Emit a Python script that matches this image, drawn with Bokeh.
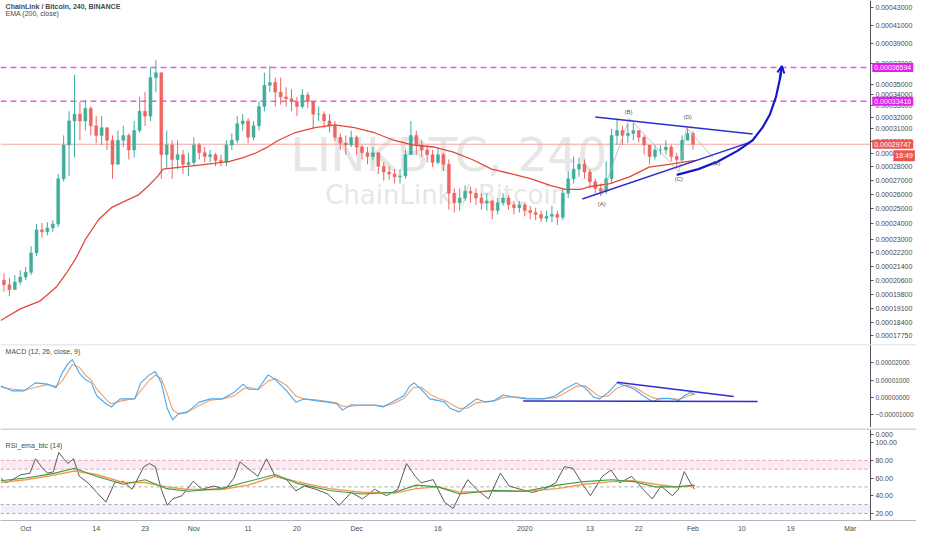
import numpy as np
from bokeh.plotting import figure
from bokeh.layouts import column
from bokeh.models import (ColumnDataSource, FixedTicker, CustomJSTickFormatter, Span,
                          Label, Range1d, BoxAnnotation, Arrow, OpenHead)
from bokeh.embed import file_html
from bokeh.resources import INLINE

SAT = 1e-8          # prices are kept in satoshi
# ---------------- data (x = days since 2019-10-01) ----------------
candle_day = list(range(-4, 124))
first_open = 20600
close_sats = [20353, 20090, 20511, 20781, 21053, 22180, 23608, 23485, 23731, 23979,
              27099, 29681, 31676, 32258, 31676, 32766, 31268, 30464, 31106, 30070,
              28177, 30070, 30464, 29297, 30864, 32511, 32091, 35613, 36079, 28920,
              29681, 28547, 28920, 28177, 28325, 29681, 29070, 28770, 28920, 28473,
              28325, 29681, 30070, 31430, 31676, 30306, 31268, 32937, 34880, 35153,
              34248, 33805, 33630, 33368, 32937, 33982, 33368, 32258, 32258, 31676,
              31268, 30306, 29837, 29681, 30306, 29527, 29070, 28770, 29070, 28031,
              27597, 27453, 27240, 27311, 28920, 30464, 29681, 29297, 28920, 28325,
              28920, 28177, 26061, 25392, 25724, 26197, 26061, 25724, 25392, 25524,
              24868, 25392, 25724, 25260, 25063, 25260, 24868, 24739, 24611, 24356,
              24483, 24611, 24420, 26061, 27099, 27813, 28177, 27597, 26888, 26402,
              26197, 27099, 30464, 30864, 30464, 30624, 30864, 30306, 29681, 28770,
              29297, 29297, 29527, 28770, 28547, 30070, 30624, 29747]
high_sats = [20998, 20727, 20890, 21163, 21381, 22588, 23979, 24041, 24104, 24230,
             27453, 30464, 32511, 35892, 33368, 33542, 32937, 32091, 32091, 31106,
             30464, 30864, 31268, 30624, 31676, 33805, 34248, 36551, 37319, 36079,
             30864, 30070, 30070, 29297, 29070, 30306, 29837, 29527, 29297, 29070,
             28920, 30070, 30624, 32091, 32258, 31924, 31676, 33368, 36079, 36742,
             35613, 35613, 34697, 34517, 33805, 34517, 34248, 33368, 32937, 32511,
             32258, 31676, 30624, 30464, 30864, 30464, 29681, 29527, 29527, 29070,
             28325, 28031, 27813, 27813, 29297, 31676, 30864, 30070, 29681, 29297,
             29527, 29070, 28547, 26402, 26402, 26609, 26540, 26402, 26061, 26061,
             25590, 25724, 26061, 25926, 25524, 25524, 25392, 25194, 25063, 24868,
             24868, 25194, 24868, 26402, 27669, 28770, 28695, 28547, 27813, 27099,
             26748, 28399, 31025, 31758, 31268, 31430, 31512, 30864, 30464, 29681,
             29681, 29681, 30070, 29700, 29070, 30464, 31106, 30800]
low_sats = [19986, 19728, 20090, 20353, 20618, 20890, 22006, 23121, 23242, 23485,
            23793, 26888, 27311, 28695, 30070, 30864, 30464, 29837, 29681, 29297,
            27099, 28177, 29527, 28547, 28695, 30700, 31268, 31676, 34248, 27099,
            27813, 27099, 27813, 27453, 27311, 28031, 28547, 28325, 28325, 28031,
            28031, 28031, 29297, 29837, 30864, 29837, 30070, 30864, 32511, 34248,
            32937, 33109, 32937, 32511, 32091, 32766, 32766, 31025, 31676, 31106,
            30704, 29992, 29297, 28920, 29527, 28920, 28547, 28177, 28473, 27453,
            26958, 27028, 26748, 26748, 27099, 28920, 28920, 28770, 28325, 27958,
            28177, 27669, 24933, 24739, 24868, 25524, 25392, 25260, 24933, 24868,
            24293, 24611, 25194, 24933, 24611, 24739, 24483, 24293, 24230, 24104,
            24104, 24104, 23917, 24230, 25724, 26748, 27240, 27099, 26402, 26061,
            25858, 26000, 26748, 29681, 29681, 29837, 30070, 29915, 28920, 28177,
            28547, 28920, 28920, 28399, 28031, 28325, 30070, 29297]

ema_day = [-4.6, -1.0, 2.6, 5.7, 7.5, 9.3, 11.1, 13.5, 15.8, 18.4,
           20.7, 22.5, 24.4, 25.3, 28.5, 31.6, 34.7, 37.6, 40.1, 42.5,
           44.3, 46.6, 49.7, 53.3, 57.0, 60.6, 64.2, 67.8, 71.5, 75.1,
           78.7, 82.3, 85.9, 89.6, 93.2, 96.8, 99.5, 102.3, 104.1, 107.7,
           111.3, 114.9, 118.6, 122.2, 123.4]
ema_sats = [18483, 19071, 19473, 20247, 20998, 21891, 23061, 24293, 25063, 25524,
            25926, 26540, 27311, 27813, 27958, 28104, 28251, 28399, 28695, 29070,
            29451, 30070, 30704, 31106, 31349, 31106, 30704, 30070, 29681, 29527,
            29145, 28547, 27813, 27453, 27099, 26609, 26333, 26333, 26540, 26748,
            27240, 27958, 28177, 28399, 28473]

resistance_sats = [36594, 33416]
last_price_sats = 29747

tri_upper_day = [105.0, 134.0]
tri_upper_sats = [32009, 30580]
tri_lower_day = [102.6, 133.6]
tri_lower_sats = [25657, 29914]
curve_day = [120.0, 124.0, 127.6, 131.2, 134.0, 135.8, 137.2, 138.3, 139.0, 139.4]
curve_sats = [27382, 27813, 28399, 29221, 30070, 31106, 32258, 33805, 35428, 36742]
wave_day = [106.2, 111.3, 120.4, 121.8, 126.7]
wave_sats = [25926, 31924, 27597, 31106, 28695]
wave_labels = ["(A)", "(B)", "(C)", "(D)", "(E)"]
wave_label_day = [106.2, 111.1, 120.4, 122.0, 127.3]
wave_label_sats = [25326, 32426, 27099, 32008, 28251]

macd_day = [-4.6, -2.5, -0.3, 1.8, 4.0, 5.6, 6.7, 7.8, 8.6, 9.9,
            11.0, 12.1, 13.1, 14.8, 15.8, 17.4, 20.1, 21.2, 22.8, 23.9,
            25.0, 26.1, 27.1, 28.2, 29.8, 32.0, 34.1, 36.3, 38.4, 40.1,
            41.1, 42.8, 44.7, 46.0, 48.1, 49.8, 51.4, 53.5, 55.7, 57.3,
            58.4, 60.0, 62.1, 64.3, 65.9, 67.5, 69.7, 70.8, 71.6, 72.9,
            74.5, 76.1, 77.2, 78.3, 79.9, 81.5, 83.1, 84.8, 86.4, 88.0,
            90.1, 92.3, 95.5, 97.7, 99.3, 101.5, 103.1, 104.7, 105.8, 107.4,
            109.0, 110.6, 112.2, 113.8, 115.5, 117.1, 118.7, 120.3, 121.4, 122.5,
            123.3]
macd_e5 = [0.67, 0.39, 0.39, 0.85, 0.78, 0.57, 1.41, 1.96, 2.19, 1.41,
           1.04, 0.85, 0.11, -0.35, -0.54, -0.07, -0.07, 0.85, 1.31, 1.50,
           0.85, -0.63, -1.28, -0.91, -0.82, -0.26, -0.07, -0.07, 0.30, 0.78,
           0.48, 0.48, 1.31, 1.04, 0.39, -0.26, -0.07, -0.17, -0.26, -0.35,
           -0.72, -0.41, -0.44, -0.44, -0.54, -0.26, 0.11, 0.67, 0.85, 0.48,
           -0.07, -0.17, -0.26, -0.63, -0.82, -0.44, -0.07, -0.26, -0.17, 0.15,
           0.02, -0.07, -0.07, 0.11, 0.48, 0.85, 0.57, 0.02, -0.07, 0.30,
           0.85, 0.67, 0.48, 0.11, -0.22, -0.04, -0.04, -0.17, 0.11, 0.30,
           0.20]
signal_e5 = [0.60, 0.50, 0.42, 0.60, 0.75, 0.65, 0.95, 1.50, 1.90, 1.75,
             1.30, 1.00, 0.50, -0.10, -0.35, -0.20, -0.05, 0.40, 1.00, 1.30,
             1.10, 0.20, -0.70, -0.95, -0.85, -0.45, -0.15, -0.08, 0.10, 0.50,
             0.60, 0.45, 0.95, 1.10, 0.70, 0.10, -0.10, -0.12, -0.22, -0.30,
             -0.50, -0.50, -0.42, -0.42, -0.48, -0.38, -0.05, 0.35, 0.60, 0.60,
             0.20, -0.05, -0.15, -0.35, -0.62, -0.60, -0.30, -0.22, -0.20, 0.00,
             0.05, -0.02, -0.06, 0.00, 0.25, 0.65, 0.70, 0.30, 0.05, 0.10,
             0.55, 0.72, 0.60, 0.30, 0.00, -0.08, -0.05, -0.10, 0.00, 0.15,
             0.20]
macd_tl_day = [109.0, 130.5]
macd_tl_e5 = [0.89, 0.06]
macd_hl_day = [91.7, 134.9]
macd_hl_e5 = [-0.20, -0.22]

rsi_day = [-4.6, -3.6, -2.5, -0.9, 0.8, 1.8, 2.9, 4.0, 5.1, 6.1,
           7.0, 7.8, 8.8, 9.9, 11.5, 13.1, 14.8, 16.4, 18.0, 19.6,
           21.8, 22.8, 23.9, 25.0, 26.1, 27.1, 28.8, 30.9, 32.5, 34.7,
           36.8, 38.4, 39.5, 40.6, 42.8, 44.4, 46.0, 48.1, 49.8, 51.4,
           53.5, 55.7, 57.8, 60.0, 62.1, 64.3, 66.5, 68.6, 70.2, 71.8,
           72.9, 75.1, 77.2, 78.8, 80.5, 81.5, 83.1, 85.3, 87.5, 89.1,
           91.2, 93.4, 95.5, 97.7, 99.3, 100.9, 102.5, 104.1, 106.3, 107.9,
           109.5, 111.7, 113.8, 115.5, 117.1, 119.2, 120.3, 121.4, 122.5, 123.3]
rsi_val = [60, 54.6, 58, 63.7, 65.5, 81.8, 72.8, 65.5, 67, 89,
           81.8, 76.4, 81.8, 61.9, 54.6, 43.7, 32.8, 54.6, 56.4, 47.3,
           72.8, 76.4, 72.8, 47.3, 29.2, 36.4, 40, 56.4, 47.3, 51,
           47.3, 60, 78.2, 72.8, 61.9, 81.8, 61.9, 58.2, 45.5, 51,
           47.3, 41.9, 29.2, 43.7, 36.4, 47.3, 40, 47.3, 76.4, 61.9,
           54.6, 58.2, 32.8, 25.5, 47.3, 58.2, 47.3, 36.4, 65.5, 51,
           47.3, 43.7, 47.3, 54.6, 72.8, 70.9, 54.6, 40, 61.9, 69.1,
           54.6, 61.9, 47.3, 36.4, 51, 40, 47.3, 67.3, 54.6, 47.3]
rsi_ma_day = [-4.6, 0, 5, 9, 13, 18, 22, 26, 30, 36,
              41, 46, 50, 56, 62, 68, 72, 76, 80, 86,
              92, 98, 103, 108, 112, 116, 120, 123.3]
rsi_slow = [55, 58, 63, 68, 64, 55, 55, 50, 47, 47,
            52, 62, 56, 48, 44, 43, 48, 50, 44, 45,
            45, 48, 53, 56, 57, 53, 50, 51]
rsi_mid = [57, 60, 65, 71, 62, 53, 58, 48, 45, 48,
           56, 64, 54, 46, 42, 44, 52, 50, 42, 46,
           45, 52, 56, 58, 56, 50, 50, 52]
rsi_levels = [80, 70, 50, 30, 20]

tick_days = [0, 13, 22, 31, 41, 50, 61, 76, 92, 104, 113, 123, 132, 141, 152]
tick_labels = ["Oct", "14", "23", "Nov", "11", "20", "Dec", "16", "2020", "13", "22",
               "Feb", "10", "19", "Mar"]
price_ticks_sats = [43000, 41000, 39000, 37000, 35000, 34000, 33000, 32000, 31000, 30000,
                    29000, 28000, 27000, 26000, 25000, 24000, 23000, 22200, 21400, 20600,
                    19800, 19100, 18400, 17750]
macd_ticks_e5 = [2, 1, 0, -1]
rsi_ticks = [100, 80, 60, 40, 20]

# ---------------- styling ----------------
FONT = "Liberation Sans"
WFONT = "DejaVu Sans"
UP, DOWN = "#3fae9c", "#ef6461"
BLUE = "#2c2cd2"
AXC = "#50535e"
LBL = "#4a4a4a"
W = 916
X0, XAX, X1 = -4.64, 155.7, 164.2     # left edge, price-axis position, right edge (days)
xr = Range1d(X0, X1)


def base(h, yr, label_size="7px", **kw):
    p = figure(width=W, frame_height=h, x_range=xr, y_range=yr,
               y_axis_location="right", toolbar_location=None, output_backend="svg",
               min_border=0, **kw)
    p.grid.visible = False
    p.outline_line_color = None
    p.background_fill_color = "white"
    p.border_fill_color = "white"
    ax = p.yaxis[0]
    ax.fixed_location = XAX
    ax.axis_line_color = AXC
    ax.major_tick_line_color = AXC
    ax.major_tick_out = 3
    ax.major_tick_in = 0
    ax.minor_tick_line_color = None
    ax.major_label_text_font_size = label_size
    ax.major_label_text_color = LBL
    ax.major_label_text_font = FONT
    ax.major_label_standoff = 2
    return p


def title(p, x, y, text, bold=False):
    p.add_layout(Label(x=x, y=y, text=text, text_font=FONT, text_font_size="7px",
                       text_color="#4a4a4a", text_baseline="middle",
                       text_font_style="bold" if bold else "normal"))


def tag(p, y, text, bg, align="left", x=XAX + 0.35):
    p.add_layout(Label(x=x, y=y, text=text, text_font=FONT,
                       text_font_size="7px", text_color="white", text_baseline="middle",
                       text_align=align, background_fill_color=bg, padding=2))


def hline(p, y, color, dash="solid", width=1.0):
    p.segment(x0=[X0], x1=[XAX], y0=[y], y1=[y], line_color=color, line_dash=dash,
              line_width=width)


# ---------------- main price pane ----------------
o = np.array([first_open] + close_sats[:-1], dtype=float) * SAT
c = np.array(close_sats, dtype=float) * SAT
h = np.maximum.reduce([np.array(high_sats) * SAT, o, c])
l = np.minimum.reduce([np.array(low_sats) * SAT, o, c])
colors = np.where(c >= o, UP, DOWN)
src = ColumnDataSource(dict(day=candle_day, top=np.maximum(o, c), bot=np.minimum(o, c),
                            h=h, l=l, color=colors))

p1 = base(344, Range1d(17322 * SAT, 43853 * SAT), y_axis_type="log", x_axis_location=None)
p1.yaxis[0].ticker = FixedTicker(ticks=[v * SAT for v in price_ticks_sats])
p1.yaxis[0].formatter = CustomJSTickFormatter(code="return tick.toFixed(8);")

p1.add_layout(Label(x=78.0, y=28900 * SAT, text="LINKBTC, 240", text_font=WFONT,
                    text_font_size="47px", text_color="#e6e6e6", text_align="center",
                    text_baseline="middle", level="underlay"))
p1.add_layout(Label(x=77.5, y=25950 * SAT, text="ChainLink / Bitcoin", text_font=WFONT,
                    text_font_size="26px", text_color="#e6e6e6", text_align="center",
                    text_baseline="middle", level="underlay"))

for r in resistance_sats:
    hline(p1, r * SAT, "#e45cf2", dash="6 4", width=1.5)
hline(p1, last_price_sats * SAT, "#f5a5a5", width=1)

p1.segment(x0="day", x1="day", y0="l", y1="h", color="color", line_width=1, source=src)
p1.vbar(x="day", width=0.55, top="top", bottom="bot", fill_color="color",
        line_color="color", line_width=0.5, source=src)
p1.line(ema_day, [v * SAT for v in ema_sats], line_color="#e3473b", line_width=1.3)

# pattern annotations
p1.line(wave_day, [v * SAT for v in wave_sats], line_color="#b4b4b4", line_width=0.8)
for d, v, t in zip(wave_label_day, wave_label_sats, wave_labels):
    p1.add_layout(Label(x=d, y=v * SAT, text=t, text_font=FONT, text_font_size="6px",
                        text_color="#555555", text_align="center", text_baseline="middle"))
p1.line(tri_upper_day, [v * SAT for v in tri_upper_sats], line_color=BLUE, line_width=1.5)
p1.line(tri_lower_day, [v * SAT for v in tri_lower_sats], line_color=BLUE, line_width=1.5)
p1.line(curve_day, [v * SAT for v in curve_sats], line_color="#1717c9", line_width=2.2)
p1.add_layout(Arrow(end=OpenHead(size=7, line_color="#1717c9", line_width=2),
                    x_start=curve_day[-2], y_start=curve_sats[-2] * SAT,
                    x_end=curve_day[-1], y_end=curve_sats[-1] * SAT,
                    line_color="#1717c9", line_width=2.2))

title(p1, -3.7, 43175 * SAT, "ChainLink / Bitcoin, 240, BINANCE", bold=True)
title(p1, -3.7, 42340 * SAT, "EMA (200, close)")

# right-axis price tags
for r in resistance_sats:
    tag(p1, r * SAT, "%.8f" % (r * SAT), "#e21ee8")
tag(p1, last_price_sats * SAT, "%.8f" % (last_price_sats * SAT), "#ef5350")
tag(p1, 28845 * SAT, "18:49", "#ef5350", align="right", x=X1 - 0.3)

# ---------------- MACD pane ----------------
E5 = 1e-5
p2 = base(83, Range1d(-1.72 * E5, 3.06 * E5), label_size="6.5px", x_axis_location=None)
p2.yaxis[0].ticker = FixedTicker(ticks=[v * E5 for v in macd_ticks_e5])
p2.yaxis[0].formatter = CustomJSTickFormatter(
    code="return tick.toFixed(8).replace('-', '\u2212');")
p2.add_layout(Span(location=3.06 * E5, dimension="width", line_color="#d1d4dc", line_width=1.5))
p2.line(macd_day, [v * E5 for v in signal_e5], line_color="#f2a06a", line_width=1.1)
p2.line(macd_day, [v * E5 for v in macd_e5], line_color="#4aa8f0", line_width=1.1)
p2.line(macd_tl_day, [v * E5 for v in macd_tl_e5], line_color=BLUE, line_width=1.5)
p2.line(macd_hl_day, [v * E5 for v in macd_hl_e5], line_color=BLUE, line_width=1.5)
title(p2, -3.7, 2.67 * E5, "MACD (12, 26, close, 9)")

# ---------------- empty pane ----------------
pg = base(11, Range1d(-1, 1), x_axis_location=None)
pg.yaxis[0].ticker = FixedTicker(ticks=[0])
pg.yaxis[0].formatter = CustomJSTickFormatter(code="return tick.toFixed(3);")
pg.add_layout(Span(location=1, dimension="width", line_color="#d1d4dc", line_width=3))
pg.add_layout(Span(location=-1, dimension="width", line_color="#d1d4dc", line_width=1.5))

# ---------------- RSI pane ----------------
p3 = base(82, Range1d(12.0, 104.7), x_axis_location="below")
p3.yaxis[0].ticker = FixedTicker(ticks=rsi_ticks)
p3.yaxis[0].formatter = CustomJSTickFormatter(code="return tick.toFixed(2);")
p3.add_layout(BoxAnnotation(left=X0, right=XAX, bottom=rsi_levels[1], top=rsi_levels[0],
                            fill_color="#f9dce8", fill_alpha=0.6, line_color=None,
                            level="underlay"))
p3.add_layout(BoxAnnotation(left=X0, right=XAX, bottom=rsi_levels[4], top=rsi_levels[3],
                            fill_color="#ebe5f3", fill_alpha=0.6, line_color=None,
                            level="underlay"))
for lv, col in zip(rsi_levels, ["#df9ab8", "#df9ab8", "#a9a9a9", "#a59fbf", "#a59fbf"]):
    hline(p3, lv, col, dash="3 3", width=1)
p3.line(rsi_day, rsi_val, line_color="#5a5a5a", line_width=1)
p3.line(rsi_ma_day, rsi_slow, line_color="#f29a4a", line_width=1.4)
p3.line(rsi_ma_day, rsi_mid, line_color="#3f9a48", line_width=1.1)
title(p3, -3.7, 97.1, "RSI_ema_btc (14)")

xa = p3.xaxis[0]
xa.ticker = FixedTicker(ticks=tick_days)
xa.major_label_overrides = {d: t for d, t in zip(tick_days, tick_labels)}
xa.major_tick_line_color = None
xa.major_tick_out = 0
xa.major_tick_in = 0
xa.minor_tick_line_color = None
xa.axis_line_color = "#b2b5be"
xa.major_label_text_font_size = "7px"
xa.major_label_text_color = LBL
xa.major_label_text_font = FONT
xa.major_label_standoff = 4

layout = column(p1, p2, pg, p3, spacing=0)
open("out.html", "w").write(file_html(layout, INLINE))
